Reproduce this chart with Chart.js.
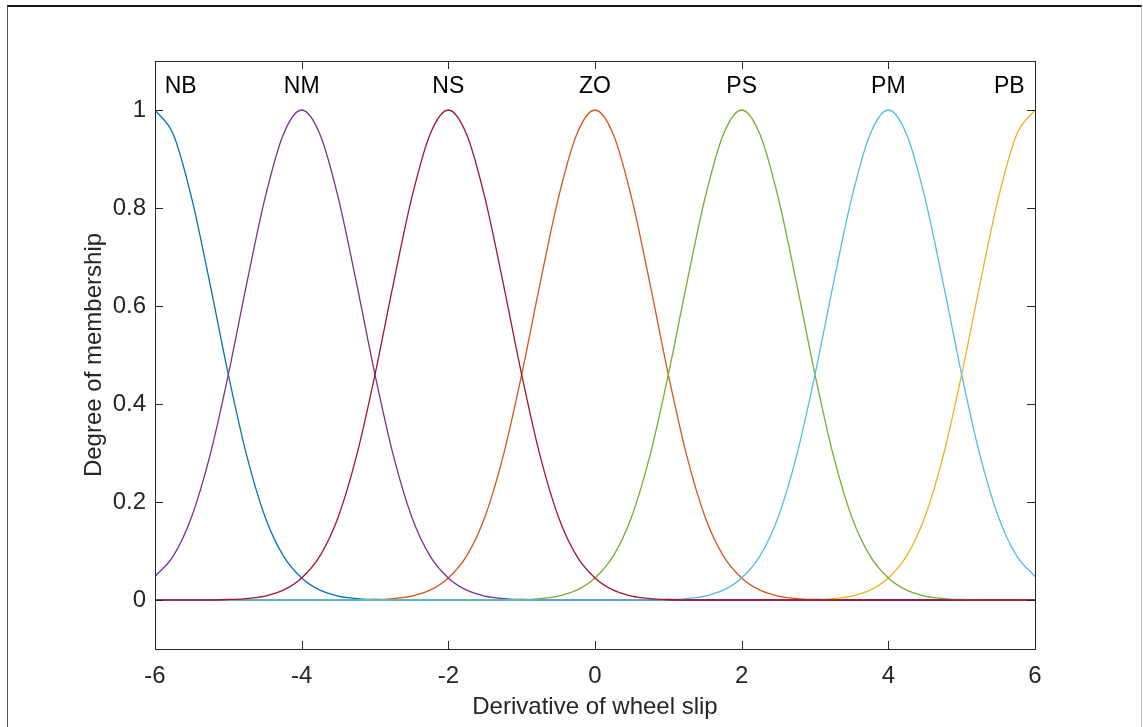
<!DOCTYPE html>
<html>
<head>
<meta charset="utf-8">
<title>Derivative of wheel slip - membership functions</title>
<script src="https://cdn.jsdelivr.net/npm/chart.js@4.4.1/dist/chart.umd.min.js"></script>
<style>
  html, body { margin: 0; padding: 0; background: #fff; }
  #wrap { position: relative; width: 1143px; height: 727px; overflow: hidden; }
  #frame {
    position: absolute; left: 7px; top: 5px; width: 1133px; height: 740px;
    border-top: 2px solid #111; border-left: 1px solid #555; border-right: 1px solid #bbb;
  }
  #mf { position: absolute; left: 0; top: 0; }
</style>
</head>
<body>
<div id="wrap">
  <div id="frame"></div>
  <canvas id="mf" width="1143" height="727"></canvas>
</div>
<script>
// input range, sampled every 0.25
const xGrid = [
  -6, -5.75, -5.5, -5.25, -5, -4.75, -4.5, -4.25, -4, -3.75, -3.5, -3.25,
  -3, -2.75, -2.5, -2.25, -2, -1.75, -1.5, -1.25, -1, -0.75, -0.5, -0.25,
  0, 0.25, 0.5, 0.75, 1, 1.25, 1.5, 1.75, 2, 2.25, 2.5, 2.75,
  3, 3.25, 3.5, 3.75, 4, 4.25, 4.5, 4.75, 5, 5.25, 5.5, 5.75, 6
];

// membership degree of each fuzzy set on xGrid
const nb = [
  1, .95, .82, .645, .46, .295, .17, .09, .045, .02, .008, .003, .001,
  0, 0, 0, 0, 0, 0, 0, 0, 0, 0, 0, 0,
  0, 0, 0, 0, 0, 0, 0, 0, 0, 0, 0, 0,
  0, 0, 0, 0, 0, 0, 0, 0, 0, 0, 0, 0
];
const nm = [
  .048, .09, .17, .295, .46, .645, .82, .95, 1,
  .95, .82, .645, .46, .295, .17, .09, .045, .02, .008, .003, .001,
  0, 0, 0, 0, 0, 0, 0, 0, 0, 0, 0, 0, 0, 0,
  0, 0, 0, 0, 0, 0, 0, 0, 0, 0, 0, 0, 0, 0
];
const ns = [
  0, 0, 0, 0,
  .001, .003, .008, .02, .045, .09, .17, .295, .46, .645, .82, .95, 1,
  .95, .82, .645, .46, .295, .17, .09, .045, .02, .008, .003, .001,
  0, 0, 0, 0, 0, 0, 0, 0, 0, 0, 0, 0, 0, 0, 0, 0, 0, 0, 0, 0
];
const zo = [
  0, 0, 0, 0, 0, 0, 0, 0, 0, 0, 0, 0,
  .001, .003, .008, .02, .045, .09, .17, .295, .46, .645, .82, .95, 1,
  .95, .82, .645, .46, .295, .17, .09, .045, .02, .008, .003, .001,
  0, 0, 0, 0, 0, 0, 0, 0, 0, 0, 0, 0
];
const ps = [
  0, 0, 0, 0, 0, 0, 0, 0, 0, 0, 0, 0, 0, 0, 0, 0, 0, 0, 0, 0,
  .001, .003, .008, .02, .045, .09, .17, .295, .46, .645, .82, .95, 1,
  .95, .82, .645, .46, .295, .17, .09, .045, .02, .008, .003, .001,
  0, 0, 0, 0
];
const pm = [
  0, 0, 0, 0, 0, 0, 0, 0, 0, 0, 0, 0, 0, 0,
  0, 0, 0, 0, 0, 0, 0, 0, 0, 0, 0, 0, 0, 0,
  .001, .003, .008, .02, .045, .09, .17, .295, .46, .645, .82, .95, 1,
  .95, .82, .645, .46, .295, .17, .09, .048
];
const pb = [
  0, 0, 0, 0, 0, 0, 0, 0, 0, 0, 0, 0,
  0, 0, 0, 0, 0, 0, 0, 0, 0, 0, 0, 0,
  0, 0, 0, 0, 0, 0, 0, 0, 0, 0, 0, 0,
  .001, .003, .008, .02, .045, .09, .17, .295, .46, .645, .82, .95, 1
];

// set names and where their labels sit along x
const setNames = ['NB', 'NM', 'NS', 'ZO', 'PS', 'PM', 'PB'];
const labelX = [-5.65, -4, -2, 0, 2, 4, 5.65];
const labelY = 1.047;

const xTicks = [-6, -4, -2, 0, 2, 4, 6];
const yTicks = [0, 0.2, 0.4, 0.6, 0.8, 1];
const yTickLabels = ['0', '0.2', '0.4', '0.6', '0.8', '1'];

const FONT = '"Liberation Sans", Arial, Helvetica, sans-serif';
const AXIS_COLOR = '#262626';

// [values, colour, draw order] -- lower order ends up on top
const series = [
  [nb, '#0072BD', 6],
  [nm, '#7E2F8E', 3],
  [ns, '#A2142F', 0],
  [zo, '#D95319', 5],
  [ps, '#77AC30', 2],
  [pm, '#4DBEEE', 1],
  [pb, '#EDB120', 4],
];

const datasets = series.map(([vals, color, order], i) => ({
  label: setNames[i],
  data: xGrid.map((x, j) => ({ x, y: vals[j] })),
  borderColor: color,
  borderWidth: 1.3,
  pointRadius: 0,
  fill: false,
  cubicInterpolationMode: 'monotone',
  order,
}));

// box, inward ticks, set names and axis titles
const boxPlugin = {
  id: 'box',
  afterDraw(chart) {
    const { ctx, chartArea: a, scales } = chart;
    const xs = scales.x, ys = scales.y;
    const tick = 8;
    ctx.save();
    ctx.strokeStyle = AXIS_COLOR;
    ctx.lineWidth = 1;
    ctx.strokeRect(Math.round(a.left) + 0.5, Math.round(a.top) + 0.5,
      Math.round(a.right - a.left), Math.round(a.bottom - a.top));
    ctx.beginPath();
    xTicks.forEach(v => {
      const px = Math.round(xs.getPixelForValue(v)) + 0.5;
      ctx.moveTo(px, a.bottom); ctx.lineTo(px, a.bottom - tick);
      ctx.moveTo(px, a.top); ctx.lineTo(px, a.top + tick);
    });
    yTicks.forEach(v => {
      const py = Math.round(ys.getPixelForValue(v)) + 0.5;
      ctx.moveTo(a.left, py); ctx.lineTo(a.left + tick, py);
      ctx.moveTo(a.right, py); ctx.lineTo(a.right - tick, py);
    });
    ctx.stroke();

    ctx.fillStyle = '#000';
    ctx.font = '23px ' + FONT;
    ctx.textAlign = 'center';
    ctx.textBaseline = 'middle';
    setNames.forEach((name, i) => {
      ctx.fillText(name, xs.getPixelForValue(labelX[i]), ys.getPixelForValue(labelY));
    });

    ctx.fillStyle = AXIS_COLOR;
    ctx.font = '24px ' + FONT;
    ctx.fillText('Derivative of wheel slip', (a.left + a.right) / 2, 707);
    ctx.translate(94, (a.top + a.bottom) / 2);
    ctx.rotate(-Math.PI / 2);
    ctx.fillText('Degree of membership', 0, 0);
    ctx.restore();
  }
};

new Chart(document.getElementById('mf'), {
  type: 'line',
  data: { datasets },
  options: {
    responsive: false,
    animation: false,
    layout: { padding: { top: 61, right: 108, left: 0, bottom: 0 } },
    plugins: { legend: { display: false }, tooltip: { enabled: false } },
    scales: {
      x: {
        type: 'linear',
        min: -6,
        max: 6,
        afterBuildTicks: s => { s.ticks = xTicks.map(v => ({ value: v })); },
        afterFit: s => { s.height = 78; },
        grid: { display: false, drawTicks: false },
        border: { display: false },
        ticks: { color: AXIS_COLOR, font: { size: 24, family: FONT }, padding: 13, maxRotation: 0 },
      },
      y: {
        type: 'linear',
        min: -0.1,
        max: 1.1,
        afterBuildTicks: s => { s.ticks = yTicks.map(v => ({ value: v })); },
        afterFit: s => { s.width = 155; },
        grid: { display: false, drawTicks: false },
        border: { display: false },
        ticks: {
          color: AXIS_COLOR,
          font: { size: 24, family: FONT },
          padding: 9,
          callback: (v) => yTickLabels[yTicks.indexOf(v)] ?? '',
        },
      },
    },
  },
  plugins: [boxPlugin],
});
</script>
</body>
</html>
